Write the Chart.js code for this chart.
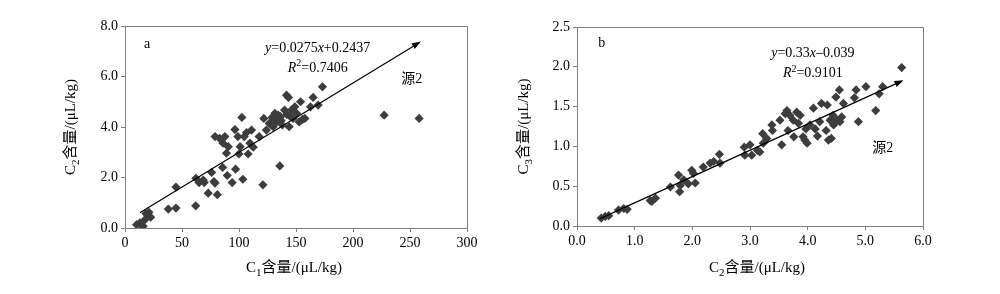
<!DOCTYPE html>
<html>
<head>
<meta charset="utf-8">
<script src="https://cdn.jsdelivr.net/npm/chart.js@4/dist/chart.umd.min.js"></script>
<style>
html,body{margin:0;padding:0;background:#fff;}
#wrap{position:relative;width:1000px;height:294px;background:#fff;}
canvas{position:absolute;top:0;}
</style>
</head>
<body>
<div id="wrap">
<canvas id="ca" width="500" height="294" style="left:0"></canvas>
<canvas id="cb" width="500" height="294" style="left:500px"></canvas>
</div>
<script>
// ---- Chart a data: C1 vs C2 ----
const aX = [10.2,13,16,17.5,19.6,21,22.5,18.4,14.6,38,44.7,44.7,62,62.2,65,68.6,69.5,73,76,78,79,81,85.6,79,83,86,87.6,89,90.6,89.7,94,96.4,97,99,100,101,102.5,103.4,104.6,106.6,108,109.6,111,112.5,117.7,121,121.8,124,126.5,129,130,131.5,133,134.4,135.8,136.4,138,140,141.7,143.4,144,144.6,146,147.5,149,150.5,152.8,154,155.7,157.8,162.7,165,169.4,173.2,227.3,258,132,137,142,128];
const aY = [0.13,0.2,0.07,0.33,0.53,0.62,0.43,0.57,0.09,0.75,0.79,1.62,0.88,1.97,1.8,1.9,1.8,1.38,2.2,1.84,1.78,1.32,2.4,3.62,3.55,3.36,3.62,2.96,3.22,2.08,1.8,3.9,2.33,3.62,2.93,3.22,4.38,1.93,3.62,3.78,2.93,3.36,3.88,3.2,3.62,1.71,4.34,3.88,4.14,4.38,4.01,4.54,4.2,4.47,2.46,4.41,4.08,4.67,5.26,5.17,4.01,4.43,4.67,4.34,4.8,4.54,4.2,5.0,4.3,4.34,4.8,5.17,4.87,5.59,4.47,4.34,4.3,4.25,4.5,4.1];
const aTrendX = [13,258];
const aTrendY = [0.6,7.34];
const aXTicks = ['0','50','100','150','200','250','300'];
const aYTicks = ['0.0','2.0','4.0','6.0','8.0'];

// ---- Chart b data: C2 vs C3 ----
const bX = [0.42,0.49,0.55,0.72,0.81,0.87,1.27,1.3,1.36,1.62,1.76,1.78,1.79,1.85,1.93,1.99,2.02,2.05,2.19,2.31,2.37,2.47,2.48,2.9,2.91,3.0,3.03,3.13,3.17,3.22,3.23,3.29,3.38,3.39,3.55,3.52,3.61,3.64,3.66,3.69,3.75,3.76,3.81,3.84,3.87,3.92,3.95,3.97,3.99,4.04,4.1,4.13,4.17,4.21,4.24,4.32,4.34,4.36,4.39,4.41,4.44,4.45,4.49,4.51,4.55,4.56,4.59,4.62,4.81,4.84,4.88,5.01,5.18,5.24,5.3,5.63];
const bY = [0.10,0.12,0.13,0.2,0.22,0.21,0.32,0.31,0.35,0.49,0.64,0.43,0.51,0.58,0.53,0.70,0.66,0.54,0.74,0.79,0.81,0.90,0.79,0.99,0.89,1.02,0.89,0.95,0.93,1.16,1.04,1.1,1.27,1.2,1.02,1.33,1.41,1.45,1.2,1.39,1.33,1.12,1.43,1.29,1.39,1.12,1.08,1.22,1.04,1.27,1.48,1.22,1.13,1.31,1.54,1.2,1.52,1.08,1.33,1.1,1.39,1.27,1.62,1.33,1.71,1.31,1.37,1.54,1.61,1.71,1.31,1.75,1.45,1.66,1.75,1.99];
const bTrendX = [0.4,5.63];
const bTrendY = [0.093,1.82];
const bXTicks = ['0.0','1.0','2.0','3.0','4.0','5.0','6.0'];
const bYTicks = ['0.0','0.5','1.0','1.5','2.0','2.5'];

const SERIF = '"Liberation Serif", "Times New Roman", "Noto Sans CJK SC", serif';
const AXIS = '#808080';
const MARK = '#3d3d3d';

function pts(xs, ys){ return xs.map((x,i)=>({x:x,y:ys[i]})); }

function drawRich(ctx, parts, cx, cy, size, rotate){
  ctx.save();
  ctx.translate(cx, cy);
  if (rotate) ctx.rotate(-Math.PI/2);
  ctx.textBaseline = 'alphabetic';
  ctx.textAlign = 'left';
  ctx.fillStyle = '#000';
  const fontOf = p => (p.i ? 'italic ' : '') + ((p.sub||p.sup) ? Math.round(size*0.7) : size) + 'px ' + SERIF;
  let w = 0;
  parts.forEach(p => { ctx.font = fontOf(p); w += ctx.measureText(p.t).width; });
  let x = -w/2;
  const base = size*0.35;
  parts.forEach(p => {
    ctx.font = fontOf(p);
    let dy = 0;
    if (p.sub) dy = size*0.25;
    if (p.sup) dy = -size*0.4;
    ctx.fillText(p.t, x, base + dy);
    x += ctx.measureText(p.t).width;
  });
  ctx.restore();
}

function makeChart(id, cfg){
  const decor = {
    id: 'decor',
    afterDatasetsDraw(chart){
      const ctx = chart.ctx, a = chart.chartArea;
      const sx = chart.scales.x, sy = chart.scales.y;
      // arrow head at trend end
      const n = cfg.trendX.length - 1;
      const x2 = sx.getPixelForValue(cfg.trendX[n]), y2 = sy.getPixelForValue(cfg.trendY[n]);
      const x1 = sx.getPixelForValue(cfg.trendX[0]), y1 = sy.getPixelForValue(cfg.trendY[0]);
      const ang = Math.atan2(y2-y1, x2-x1);
      ctx.save();
      ctx.translate(x2, y2); ctx.rotate(ang);
      ctx.fillStyle = '#000';
      ctx.beginPath(); ctx.moveTo(2,0); ctx.lineTo(-7,-3.2); ctx.lineTo(-7,3.2); ctx.closePath(); ctx.fill();
      ctx.restore();
      // frame top & right
      ctx.save();
      ctx.strokeStyle = AXIS; ctx.lineWidth = 1;
      ctx.beginPath();
      ctx.moveTo(Math.round(a.left)+0.5, Math.round(a.top)+0.5);
      ctx.lineTo(Math.round(a.right)+0.5, Math.round(a.top)+0.5);
      ctx.lineTo(Math.round(a.right)+0.5, Math.round(a.bottom)+0.5);
      ctx.stroke();
      ctx.restore();
      // annotations
      cfg.notes.forEach(nt => {
        drawRich(ctx, nt.parts, sx.getPixelForValue(nt.x), sy.getPixelForValue(nt.y), 14, false);
      });
      // axis titles
      drawRich(ctx, cfg.xTitle, (a.left+a.right)/2 + cfg.xTitleDx, 267, 15, false);
      drawRich(ctx, cfg.yTitle, cfg.yTitleX, (a.top+a.bottom)/2, 15, true);
    }
  };
  return new Chart(document.getElementById(id), {
    type: 'scatter',
    data: {
      datasets: [
        {
          data: pts(cfg.trendX, cfg.trendY),
          showLine: true, borderColor: '#000', borderWidth: 1.2,
          pointRadius: 0, order: 0
        },
        {
          data: pts(cfg.xs, cfg.ys),
          pointStyle: 'rectRot', pointRadius: 4.6, pointHoverRadius: 4.6,
          backgroundColor: MARK, borderColor: MARK, borderWidth: 0, order: 1
        }
      ]
    },
    options: {
      responsive: false, animation: false, devicePixelRatio: 1,
      layout: { padding: cfg.pad },
      plugins: { legend: {display:false}, tooltip: {enabled:false}, title: {display:false} },
      scales: {
        x: {
          type: 'linear', min: cfg.xMin, max: cfg.xMax,
          ticks: { stepSize: cfg.xStep, autoSkip: false, maxRotation: 0, padding: 3, color: '#000',
                   font: {family: SERIF, size: 14}, callback: (v,i) => cfg.xTicks[i] },
          grid: { drawOnChartArea: false, drawTicks: true, tickLength: 4, color: AXIS },
          border: { display: true, color: AXIS, width: 1 },
          afterFit: s => { s.height = cfg.xH; }
        },
        y: {
          type: 'linear', min: cfg.yMin, max: cfg.yMax,
          ticks: { stepSize: cfg.yStep, autoSkip: false, padding: 3, color: '#000',
                   font: {family: SERIF, size: 14}, callback: (v,i) => cfg.yTicks[i] },
          grid: { drawOnChartArea: false, drawTicks: true, tickLength: 4, color: AXIS },
          border: { display: true, color: AXIS, width: 1 },
          afterFit: s => { s.width = cfg.yW; }
        }
      }
    },
    plugins: [decor]
  });
}

makeChart('ca', {
  xs: aX, ys: aY, trendX: aTrendX, trendY: aTrendY,
  xMin: 0, xMax: 300, xStep: 50, yMin: 0, yMax: 8, yStep: 2,
  xTicks: aXTicks, yTicks: aYTicks,
  pad: {left: 60, right: 33, top: 26, bottom: 0}, xH: 66, yW: 65,
  xTitle: [{t:'C'},{t:'1',sub:true},{t:'含量/(μL/kg)'}], xTitleDx: -2,
  yTitle: [{t:'C'},{t:'2',sub:true},{t:'含量/(μL/kg)'}], yTitleX: 70,
  notes: [
    {x: 19.3, y: 7.32, parts: [{t:'a'}]},
    {x: 169, y: 7.16, parts: [{t:'y',i:true},{t:'=0.0275'},{t:'x',i:true},{t:'+0.2437'}]},
    {x: 169, y: 6.37, parts: [{t:'R',i:true},{t:'2',sup:true},{t:'=0.7406'}]},
    {x: 251.5, y: 5.93, parts: [{t:'源2'}]}
  ]
});

makeChart('cb', {
  xs: bX, ys: bY, trendX: bTrendX, trendY: bTrendY,
  xMin: 0, xMax: 6, xStep: 1, yMin: 0, yMax: 2.5, yStep: 0.5,
  xTicks: bXTicks, yTicks: bYTicks,
  pad: {left: 27, right: 77, top: 27, bottom: 0}, xH: 68, yW: 50,
  xTitle: [{t:'C'},{t:'2',sub:true},{t:'含量/(μL/kg)'}], xTitleDx: 7,
  yTitle: [{t:'C'},{t:'3',sub:true},{t:'含量/(μL/kg)'}], yTitleX: 23,
  notes: [
    {x: 0.43, y: 2.31, parts: [{t:'b'}]},
    {x: 4.09, y: 2.19, parts: [{t:'y',i:true},{t:'=0.33'},{t:'x',i:true},{t:'–0.039'}]},
    {x: 4.09, y: 1.93, parts: [{t:'R',i:true},{t:'2',sup:true},{t:'=0.9101'}]},
    {x: 5.3, y: 0.99, parts: [{t:'源2'}]}
  ]
});
</script>
</body>
</html>
